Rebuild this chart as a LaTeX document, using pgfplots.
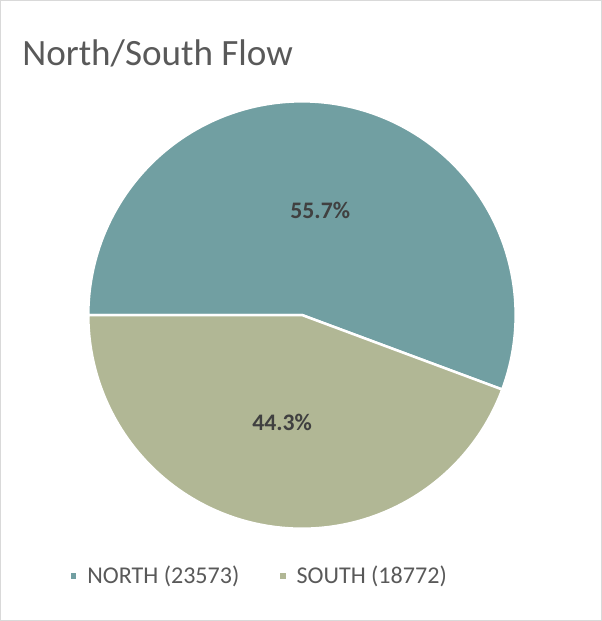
\documentclass[border=0pt]{standalone}
\usepackage{fontspec}
\setmainfont{Carlito}
\usepackage{pgfplots}
\pgfplotsset{compat=1.18}
\definecolor{northc}{HTML}{719FA2}
\definecolor{southc}{HTML}{B1B795}
\definecolor{titlec}{HTML}{595959}
\definecolor{labc}{HTML}{404040}
\definecolor{borderc}{HTML}{D9D9D9}
\def\north{23573}
\def\south{18772}
\def\cx{303}
\def\cy{315}
\def\R{213}
\edef\aN{\fpeval{round(360*\north/(\north+\south),4)}}
\edef\aEnd{\fpeval{round(180-\aN,4)}}
\edef\aS{\fpeval{round(\aEnd-360*\south/(\north+\south),4)}}
\begin{document}
\begin{tikzpicture}
\begin{axis}[
  scale only axis, width=603pt, height=621pt,
  xmin=0, xmax=603, ymin=0, ymax=621, y dir=reverse,
  axis lines=none, clip=false,
  legend columns=2,
  legend style={draw=none, fill=none, at={(axis cs:70,575)}, anchor=west,
    font=\fontsize{24}{28}\selectfont, text=titlec,
    /tikz/every odd column/.append style={column sep=8.5pt},
    /tikz/every even column/.append style={column sep=38pt},
    inner sep=0pt, outer sep=0pt, nodes={inner sep=0pt}},
  legend image code/.code={\fill[#1] (0pt,-4pt) rectangle (8pt,4pt);},
]
\draw[borderc, line width=1pt] (axis cs:2.5,1.5) rectangle (axis cs:601.5,619.5);
\addplot[fill=northc, draw=white, line width=2.5pt, line join=round, domain=\aEnd:180, samples=240]
  ({\cx+\R*cos(x)}, {\cy-\R*sin(x)}) -- (axis cs:\cx,\cy) -- cycle;
\addlegendentry{NORTH (23573)}
\addplot[fill=southc, draw=white, line width=2.5pt, line join=round, domain=\aS:\aEnd, samples=200]
  ({\cx+\R*cos(x)}, {\cy-\R*sin(x)}) -- (axis cs:\cx,\cy) -- cycle;
\addlegendentry{SOUTH (18772)}
\node[anchor=base west, inner sep=0pt, text=titlec, font=\fontsize{37}{42}\selectfont] at (axis cs:24,66) {North/South Flow};
\node[anchor=base, inner sep=0pt, text=labc, font=\fontsize{23.6}{28}\selectfont\bfseries] at (axis cs:321.2,218.3) {55.7\%};
\node[anchor=base, inner sep=0pt, text=labc, font=\fontsize{23.6}{28}\selectfont\bfseries] at (axis cs:283.2,430) {44.3\%};
\end{axis}
\end{tikzpicture}
\end{document}
